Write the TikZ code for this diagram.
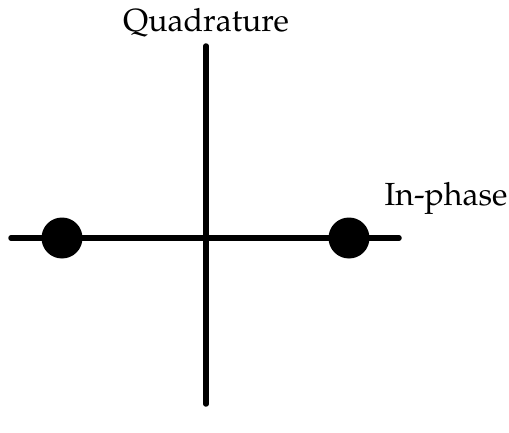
\documentclass[tikz,border=0pt]{standalone}
\usepackage[T1]{fontenc}
\usepackage{mathpazo}
\begin{document}
\begin{tikzpicture}[x=1pt,y=-1pt,
  axis/.style={line width=5.5pt,line cap=round},
  dot/.style={circle,fill=black,minimum size=41pt,inner sep=0pt},
  lbl/.style={font=\fontsize{32}{38}\selectfont,inner sep=0pt}]
\useasboundingbox (0,0) rectangle (509,433);
\coordinate (L) at (11,238);
\coordinate (R) at (399,238);
\coordinate (T) at (206,46);
\coordinate (B) at (206,404);
\draw[axis] (L) -- (R);
\draw[axis] (T) -- (B);
\node[dot] (d1) at (62,238) {};
\node[dot] (d2) at (349,238) {};
\node[lbl,anchor=base] (q) at (206,32) {Quadrature};
\node[lbl,anchor=base] (ip) at (446,206) {In-phase};
\end{tikzpicture}
\end{document}
